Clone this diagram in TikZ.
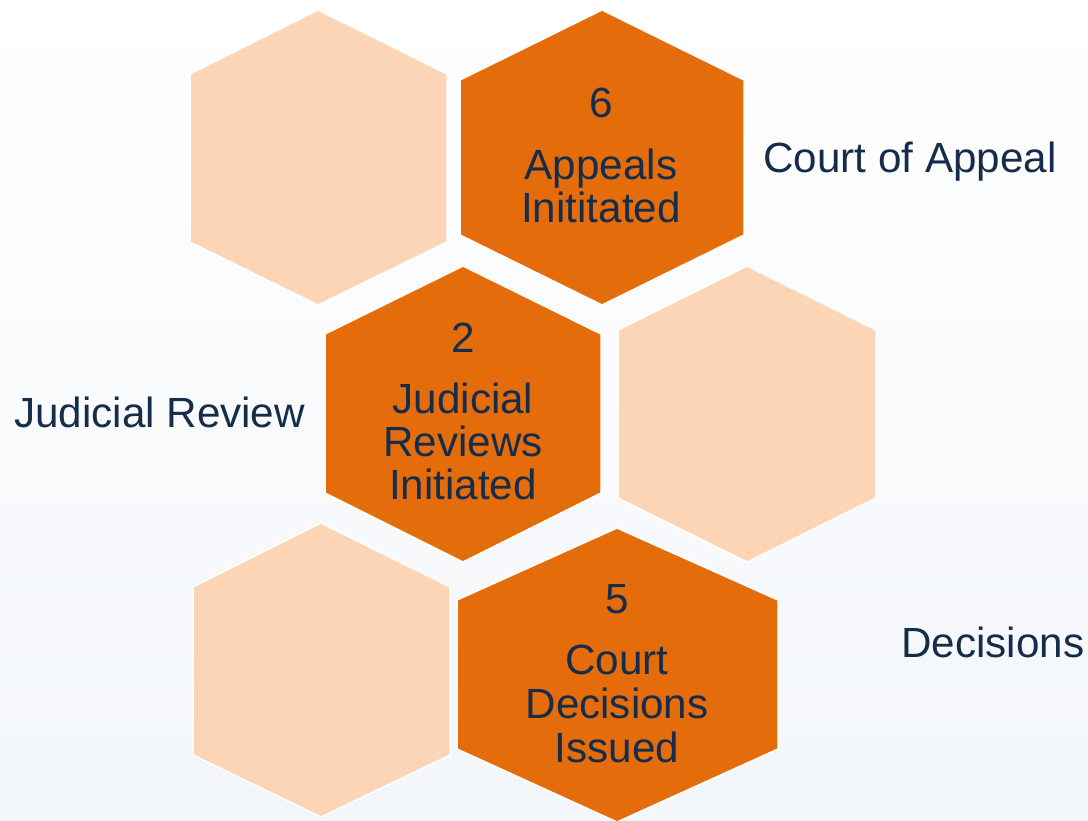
\documentclass[tikz,border=0pt]{standalone}
\usepackage{fontspec}
\setmainfont{Liberation Sans}
\definecolor{hexdark}{HTML}{E46C0A}
\definecolor{hexlight}{HTML}{FBD5B5}
\definecolor{txtnavy}{HTML}{152C4B}
\definecolor{bgbottom}{HTML}{F3F6FA}
\tikzset{
  darkhex/.style={fill=hexdark, draw=white, line width=1.5bp, line join=miter},
  lighthex/.style={fill=hexlight, draw=white, line width=1.5bp, line join=miter},
  lbl/.style={text=txtnavy, font=\fontsize{42.2bp}{44bp}\selectfont, inner sep=0pt, anchor=base},
  sidelbl/.style={lbl, anchor=base west},
}
\begin{document}
\begin{tikzpicture}[x=1bp,y=-1bp]
\useasboundingbox (0,0) rectangle (1088,821);
\shade[top color=white, bottom color=bgbottom] (0,0) rectangle (1088,821);
% hexagons
\path[lighthex] (318,10) -- (447,74) -- (447,242) -- (318,305) -- (190,242) -- (190,74) -- cycle;
\path[darkhex]  (602,10) -- (744,80) -- (744,235) -- (602,305) -- (460,235) -- (460,80) -- cycle;
\path[darkhex]  (463,266) -- (601,334) -- (601,493) -- (463,562) -- (325,493) -- (325,334) -- cycle;
\path[lighthex] (747,266) -- (876,330) -- (876,498) -- (747,562) -- (618,498) -- (618,330) -- cycle;
\path[lighthex] (321,523) -- (450,587) -- (450,755) -- (321,817) -- (193,755) -- (193,587) -- cycle;
\path[darkhex]  (617,528) -- (778,600) -- (778,749) -- (617,822) -- (457,749) -- (457,600) -- cycle;
% texts in top hexagon
\node[lbl] (n6) at (601,117) {6};
\node[lbl] (t6a) at (601,179) {Appeals};
\node[lbl] (t6b) at (601,222) {Inititated};
% texts in middle hexagon
\node[lbl] (n2) at (463,352) {2};
\node[lbl] (t2a) at (463,413) {Judicial};
\node[lbl] (t2b) at (463,456) {Reviews};
\node[lbl] (t2c) at (463,499) {Initiated};
% texts in bottom hexagon
\node[lbl] (n5) at (617,613) {5};
\node[lbl] (t5a) at (617,674) {Court};
\node[lbl] (t5b) at (617,718) {Decisions};
\node[lbl] (t5c) at (617,762) {Issued};
% side labels
\node[sidelbl] (coa) at (763,172) {Court of Appeal};
\node[sidelbl] (jr) at (14,427) {Judicial Review};
\node[sidelbl] (dec) at (901,657) {Decisions};
\end{tikzpicture}
\end{document}
